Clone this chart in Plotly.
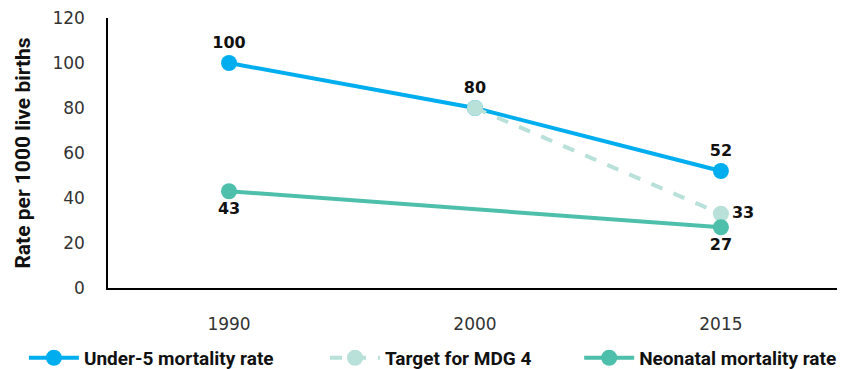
import plotly.graph_objects as go

years = ["1990", "2000", "2015"]
under5 = [100, 80, 52]
target = [None, 80, 33]
neonatal = [43, None, 27]

y_ticks = [0, 20, 40, 60, 80, 100, 120]

blue = "#00AEEF"
pale = "#B9E1D9"
teal = "#4DBFAA"

label_font = dict(family="DejaVu Sans, sans-serif", size=16, color="#111111", weight="bold")
legend_font = dict(family="Roboto, sans-serif", size=19, color="#111111", weight="bold")

fig = go.Figure()

fig.add_trace(go.Scatter(
    x=years, y=under5, name="Under-5 mortality rate",
    mode="lines+markers+text",
    line=dict(color=blue, width=4),
    marker=dict(color=blue, size=16),
    text=[str(v) for v in under5],
    textposition="top center",
    textfont=label_font,
    legend="legend",
))

fig.add_trace(go.Scatter(
    x=years, y=target, name="Target for MDG 4",
    mode="lines+markers+text",
    connectgaps=True,
    line=dict(color=pale, width=4, dash="dash"),
    marker=dict(color=pale, size=16),
    text=["", "", str(target[2])],
    textposition="middle right",
    textfont=label_font,
    legend="legend2",
))

fig.add_trace(go.Scatter(
    x=years, y=neonatal, name="Neonatal mortality rate",
    mode="lines+markers+text",
    connectgaps=True,
    line=dict(color=teal, width=4),
    marker=dict(color=teal, size=16),
    text=[str(v) if v is not None else "" for v in neonatal],
    textposition="bottom center",
    textfont=label_font,
    legend="legend3",
))

def legend_at(x):
    return dict(
        orientation="h", xref="container", yref="container",
        x=x, xanchor="left", y=0.03, yanchor="middle",
        font=legend_font, itemwidth=50, bgcolor="rgba(0,0,0,0)",
    )

fig.update_layout(
    width=853, height=369,
    margin=dict(l=108, r=16, t=18, b=81, autoexpand=False),
    paper_bgcolor="white", plot_bgcolor="white",
    font=dict(family="DejaVu Sans, sans-serif", color="#333333"),
    showlegend=True,
    legend=legend_at(0.028),
    legend2=legend_at(0.381),
    legend3=legend_at(0.679),
    xaxis=dict(
        type="category", range=[-0.492, 2.472], showgrid=False, showline=True,
        linecolor="black", linewidth=1.5, ticks="",
        tickfont=dict(size=17, color="#333333"), ticklabelstandoff=20,
    ),
    yaxis=dict(
        range=[0, 120], tickvals=y_ticks, showgrid=False, showline=True,
        linecolor="black", linewidth=1.5, ticks="", zeroline=False,
        tickfont=dict(size=17, color="#333333"), ticklabelstandoff=18,
        title=dict(text="Rate per 1000 live births", standoff=16,
                   font=dict(family="Roboto, sans-serif", size=21, color="#111111", weight="bold")),
    ),
)

fig.write_html("out.html")
